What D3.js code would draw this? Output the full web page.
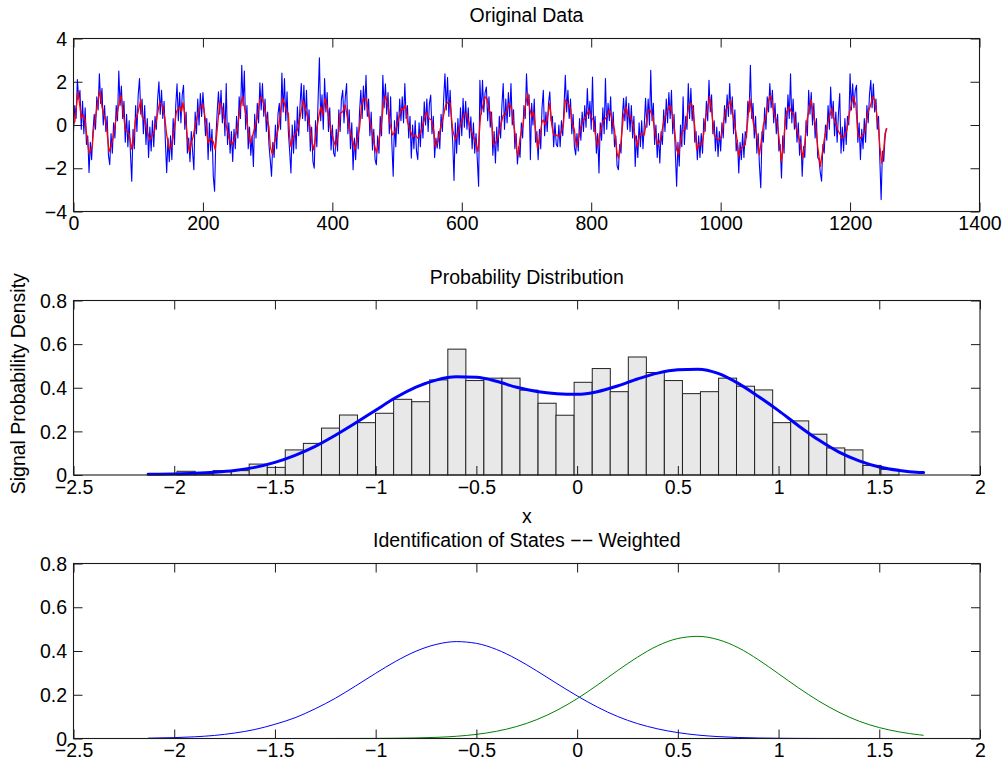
<!DOCTYPE html>
<html>
<head>
<meta charset="utf-8">
<script src="https://cdn.jsdelivr.net/npm/d3@7"></script>
<style>
  body { margin: 0; background: #fff; }
  svg { display: block; font-family: "Liberation Sans", Arial, Helvetica, sans-serif; }
</style>
</head>
<body>
<svg id="fig" width="1004" height="769"></svg>
<script>
// ---------- data ----------
// raw signal, one value every second sample (sample index = 2 * position)
const rawSignal = [
  -0.3,0.9,0.3,2.1,1.2,1.6,-0.2,1.1,-0.4,0.8,-0.9,-0.5,-2.2,-0.8,-1.6,-0.3,
  0.5,-0.2,1.3,0.7,2.37,1.0,1.7,0.0,0.9,-0.3,0.4,-1.4,-1.84,-0.4,-1.3,0.1,
  -0.6,0.9,0.2,2.5,0.9,1.8,0.3,1.1,-0.8,0.5,-1.0,0.2,-1.3,-2.6,-0.2,-1.1,
  0.9,-0.3,1.4,2.15,0.5,1.2,-0.4,0.9,-0.9,0.3,-1.5,-0.1,-1.2,0.2,-1.0,0.4,
  -0.2,1.2,2.0,0.5,1.6,0.3,1.1,-0.8,-2.2,-0.6,-1.7,-0.5,-1.6,0.3,-0.9,0.9,
  1.9,0.2,1.5,0.1,1.4,1.84,-0.2,0.6,-1.3,-0.6,-1.7,-0.3,-1.2,-2.07,0.6,-0.4,
  1.2,0.0,1.46,0.4,1.5,0.6,-0.5,0.3,-1.6,0.1,-1.2,-0.2,-2.37,-3.06,-0.6,0.6,
  1.53,0.5,1.6,0.1,1.0,-0.5,1.92,-0.9,0.1,-1.3,-0.3,-1.69,-0.2,-1.1,0.4,-0.6,
  1.3,0.3,2.76,0.9,2.5,-0.2,0.9,-1.1,-0.1,-1.4,-0.5,-1.92,0.5,-0.6,1.0,0.1,
  1.95,0.7,1.92,0.4,1.2,-0.3,0.6,-0.9,-1.6,-2.37,-0.8,-1.5,0.0,-1.1,0.5,1.0,
  -0.2,2.4,0.6,2.15,0.2,1.53,-0.3,-1.2,-2.22,0.0,-1.3,0.2,-1.1,0.84,-0.5,0.9,
  1.92,0.3,1.84,0.2,1.6,-0.3,0.7,-1.2,-0.1,-1.7,-2.0,0.2,-1.0,1.2,3.11,0.2,
  1.4,-0.2,2.15,0.6,1.5,-0.3,0.8,-1.15,0.0,-1.3,-1.46,-0.2,-1.2,0.7,-0.3,1.2,
  1.6,0.1,1.3,1.92,-0.4,0.7,-1.1,0.1,-2.07,-0.6,-1.6,-0.1,-1.1,0.6,1.6,0.3,
  1.8,0.7,2.3,0.4,1.2,-0.5,0.6,-1.15,-0.2,-1.6,-1.84,-0.5,-1.3,0.4,-0.5,2.3,
  0.8,1.9,0.5,1.5,-0.4,1.3,-0.9,-2.37,0.2,-1.0,0.6,-0.4,1.2,0.2,1.3,0.1,
  1.92,0.3,0.9,-0.6,0.4,-1.53,0.0,-1.1,0.2,-1.2,-1.6,0.1,-1.0,0.4,-0.6,1.07,
  0.0,1.2,-0.3,1.0,1.38,-0.4,0.4,-1.5,-0.6,-1.07,-0.3,-1.1,0.5,-0.3,1.2,2.37,
  0.7,2.2,0.4,1.6,0.2,-0.8,-2.56,0.1,-1.3,0.3,-0.9,0.8,-0.5,1.23,-0.1,1.1,
  -0.2,0.8,-0.6,0.38,-1.1,0.1,-1.3,-0.4,-1.6,-2.83,2.07,0.5,2.07,0.6,1.5,1.76,
  0.2,1.3,-0.1,0.6,-1.4,-0.3,-1.76,-0.1,-1.2,0.4,-0.6,0.9,1.92,-0.2,1.2,0.1,
  1.5,0.4,1.92,0.0,0.7,-1.1,-0.4,-1.8,-1.0,-1.5,0.1,-0.6,0.9,0.3,2.37,0.9,
  1.4,-1.6,1.0,0.0,1.2,-0.8,-0.3,-1.6,-0.2,-1.1,0.8,1.6,-0.5,0.6,-0.3,1.0,
  1.53,0.2,0.4,-1.0,0.1,-0.9,-1.0,0.0,-1.0,0.2,-0.5,0.9,2.3,0.6,1.6,0.3,
  1.2,-0.4,0.5,-1.0,-1.38,-0.4,-1.2,0.3,-0.7,0.6,-0.3,0.9,-0.1,1.69,0.3,1.1,
  -0.2,2.22,-0.3,0.4,-1.3,-0.4,-2.22,0.1,-0.7,0.8,-0.4,2.15,-0.2,1.0,0.2,1.3,
  -0.4,0.6,-1.0,-0.5,-1.9,-2.07,-0.9,-1.3,0.3,1.23,0.2,1.3,-0.2,1.0,-0.3,0.9,
  -0.6,0.4,-1.92,-0.5,-1.5,0.1,-1.0,0.2,-1.1,0.0,1.23,-0.1,1.2,0.0,2.53,0.2,
  1.0,-0.9,0.0,-1.5,-0.4,-1.76,-0.3,-0.9,0.7,-0.3,1.2,0.1,1.5,0.3,1.6,-0.4,
  0.5,-1.3,-2.83,-0.8,-1.9,0.0,-1.0,1.3,-0.9,0.4,-0.2,1.92,0.3,1.7,0.2,0.9,
  -0.8,-0.3,-1.6,-0.5,-1.5,-0.4,-1.3,0.3,-0.3,1.1,0.2,2.07,0.6,1.4,-0.4,0.2,
  -1.2,-0.1,-1.46,-0.3,-1.2,0.1,-0.6,0.9,0.1,1.4,0.4,1.92,0.5,1.3,-0.4,0.7,
  -1.2,-0.7,-2.22,-0.8,-1.6,-0.4,-1.5,-0.3,-0.6,1.1,0.6,2.76,0.3,1.0,-0.6,0.4,
  -1.3,-0.4,-1.9,-2.9,-0.3,-0.8,0.8,-0.2,1.3,0.6,1.92,0.8,1.6,0.1,1.0,-0.4,
  0.5,-1.2,-0.9,-2.45,-0.5,-1.3,0.8,-0.2,1.4,0.3,2.37,0.1,1.2,-0.2,0.6,-0.8,
  0.1,-1.4,-0.5,-2.37,-1.0,-1.5,0.2,-0.5,1.6,0.5,1.5,0.0,1.0,-0.6,0.3,-1.5,
  -1.6,-2.2,-2.6,-0.9,-1.3,0.0,-0.7,0.9,-0.2,1.76,0.3,1.1,-0.5,0.6,-0.8,0.5,
  1.46,-1.3,-0.1,-1.2,0.3,-0.9,0.4,0.0,2.37,0.7,1.9,0.8,1.6,1.84,-0.8,0.1,
  -1.6,-0.2,-1.1,0.3,-0.8,0.9,0.1,1.4,2.07,0.8,1.9,0.6,1.2,-0.2,0.4,-1.6,-3.45,-1.2,-1.69,-0.6,-0.15
];

// smoothed signal as [sample index, value]
const smoothedSignal = [
  [0,0.05],[2,0.15],[5,1.0],[7,1.53],[10,0.84],[12,0.31],[15,0.46],[18,0.23],[20,-0.38],[24,-1.3],[26,-1.23],[29,-1.0],[31,-0.23],
  [36,0.77],[39,1.3],[41,1.58],[44,0.84],[47,0.46],[49,0.31],[52,-0.38],[55,-1.23],[58,-1.0],[61,-0.61],[65,0.15],[69,0.77],
  [73,1.38],[75,1.0],[78,0.31],[80,-0.23],[84,-0.31],[87,-0.61],[90,-1.12],[93,-0.54],[96,0.31],[98,0.38],[101,0.77],[104,1.15],
  [106,0.38],[110,0.23],[114,-0.31],[118,-0.69],[122,-0.46],[125,-0.31],[129,0.38],[133,1.03],[137,0.92],[141,0.38],[144,-0.46],
  [148,-1.12],[151,-1.0],[155,-0.31],[159,0.61],[162,0.77],[164,0.84],[167,0.61],[169,1.03],[173,0.31],[176,-0.61],[179,-1.23],
  [182,-0.84],[185,-0.54],[188,0],[192,0.46],[196,0.84],[200,0.97],[204,0.23],[208,-0.84],[212,-0.61],[216,-0.77],[219,-1.15],
  [222,-0.23],[226,1.07],[230,0.77],[233,0.31],[237,-0.15],[241,-0.69],[245,-0.92],[249,-0.61],[253,-0.23],[257,0.69],[261,1.3],
  [263,1.0],[267,0.38],[271,-0.46],[273,-0.84],[277,-0.46],[280,-0.15],[284,0.38],[288,1.15],[290,1.3],[294,1.0],[298,0.38],
  [302,-0.08],[304,-0.99],[307,-1.33],[310,-0.84],[315,-0.38],[317,-0.08],[320,0.61],[323,1.23],[326,1.0],[329,0.61],[332,0.54],
  [334,-0.54],[336,-1.0],[339,-0.61],[342,-0.46],[346,-0.23],[349,0.15],[352,0.69],[355,1.12],[358,0.77],[361,0.46],[365,0],
  [368,-0.69],[371,-1.15],[375,-0.38],[379,0.38],[382,0.84],[385,0.46],[389,1.23],[393,0.69],[397,-0.15],[401,-0.61],[405,-1.0],
  [409,-0.46],[412,0.54],[416,0.61],[420,0.92],[424,0.23],[428,-0.38],[431,-0.69],[435,-1.15],[438,-0.69],[442,-0.15],[445,0.84],
  [448,1.23],[452,1.23],[456,0.46],[460,-0.08],[464,-0.77],[468,-1.3],[472,-0.77],[476,0.08],[479,1.0],[482,1.38],[486,0.92],
  [489,0.08],[493,-0.46],[497,-0.31],[501,0.15],[507,0.77],[509,0.69],[513,0.92],[516,0.15],[521,-0.31],[524,-0.54],[528,-0.46],
  [532,-0.61],[536,-0.38],[540,0],[545,0.61],[549,0.31],[553,0.23],[557,-0.31],[559,-1.0],[563,-0.77],[567,-0.15],[571,0.31],
  [575,0.92],[579,1.07],[582,1.0],[586,-0.23],[590,-0.69],[594,-0.38],[598,0],[603,0.46],[607,0.54],[610,0.23],[613,-0.15],
  [617,-0.46],[621,-0.77],[625,-1.23],[629,0.42],[633,0.95],[636,1.3],[639,1.23],[642,0.69],[644,0.61],[647,-0.08],[649,-0.92],
  [652,-0.84],[654,-0.69],[657,-0.46],[661,0.08],[664,0.46],[667,0.46],[671,0.77],[673,1.0],[677,0.77],[680,0.08],[683,-0.54],
  [685,-1.23],[687,-1.43],[690,-0.61],[695,0.08],[698,0.84],[702,1.46],[705,0.77],[708,0.38],[711,0.61],[714,-0.23],[717,-1.07],
  [720,-0.69],[724,0.15],[726,0.23],[729,0],[733,0.46],[736,1.0],[739,0],[742,-0.46],[746,-0.46],[750,-0.54],[753,-0.38],[757,0],
  [760,1.15],[764,1.0],[768,0.77],[770,0.15],[774,-0.23],[777,-1.0],[781,-0.54],[784,-0.08],[788,0.23],[792,0.38],[796,0.69],
  [800,0.38],[803,0.23],[806,-0.38],[810,-1.0],[813,-0.46],[817,0.08],[820,0.23],[824,0.38],[828,0.69],[832,0.31],[836,-0.23],
  [840,-1.3],[842,-1.53],[846,-0.77],[850,0.46],[854,0.84],[857,0.38],[860,0.46],[864,0.08],[868,-0.54],[871,-1.0],[874,-0.54],
  [878,-0.38],[882,-0.46],[885,0.08],[888,0.69],[891,0.69],[895,0.38],[899,-0.46],[903,-0.92],[907,-0.69],[911,0],[914,0.38],
  [918,0.69],[922,0.92],[926,0.38],[929,-0.31],[932,-1.15],[935,-1.38],[938,-0.77],[941,-0.3],[945,-0.2],[948,0.38],[951,0.92],
  [955,1.0],[957,0.77],[960,-0.08],[963,-1.15],[966,-0.92],[968,-0.84],[971,-0.92],[974,-0.38],[977,0.38],[980,0.77],[983,1.3],
  [986,0.69],[990,-0.46],[994,-0.61],[997,-0.69],[1001,-0.54],[1004,0.08],[1008,0.69],[1012,0.92],[1015,1.15],[1018,0.61],
  [1021,0.15],[1025,-0.61],[1028,-1.46],[1030,-1.15],[1034,-1.0],[1038,-0.92],[1042,0.23],[1045,1.23],[1047,0.77],[1051,0],
  [1054,-0.23],[1057,-0.69],[1060,-1.38],[1063,-0.69],[1066,0],[1070,0.38],[1074,1.15],[1077,1.38],[1080,1.0],[1083,0.46],
  [1087,0.15],[1090,-0.54],[1094,-1.69],[1097,-0.84],[1100,0.23],[1102,0.61],[1106,0.84],[1109,0.61],[1113,0.54],[1116,-0.08],
  [1120,-0.46],[1124,-1.0],[1127,-1.53],[1130,-0.84],[1133,0.15],[1137,0.77],[1140,1.15],[1143,0.54],[1147,-0.08],[1150,-1.0],
  [1154,-1.92],[1157,-1.3],[1160,-0.69],[1164,-0.08],[1168,0.38],[1172,0.77],[1174,0.38],[1178,0.08],[1181,-0.23],[1185,-0.46],
  [1187,-0.61],[1191,-0.54],[1195,-0.23],[1199,0.54],[1203,1.07],[1205,1.3],[1209,0.92],[1212,-0.46],[1216,-0.61],[1219,-0.46],
  [1223,-0.31],[1227,0.54],[1231,0.84],[1235,1.3],[1238,1.15],[1241,0.54],[1244,-0.15],[1246,-1.0],[1249,-1.76],[1252,-1.15],
  [1254,-0.38],[1257,-0.15]
];

// histogram of the signal (bin centres and density heights)
const binCenters = [-1.941,-1.852,-1.762,-1.672,-1.583,-1.493,-1.404,-1.314,-1.224,-1.135,
  -1.045,-0.956,-0.866,-0.776,-0.687,-0.597,-0.508,-0.418,-0.328,-0.239,
  -0.149,-0.060,0.030,0.120,0.209,0.299,0.388,0.478,0.568,0.657,
  0.747,0.836,0.926,1.016,1.105,1.195,1.284,1.374,1.464,1.553];
const binWidth = 0.0896;
const binDensity = [0.017,0.006,0.02,0.02,0.05,0.035,0.115,0.145,0.215,0.275,
  0.24,0.283,0.347,0.336,0.436,0.577,0.433,0.444,0.444,0.389,
  0.329,0.274,0.425,0.488,0.382,0.541,0.470,0.433,0.373,0.382,
  0.444,0.407,0.390,0.240,0.248,0.187,0.124,0.115,0.044,0.026];

// grid on which the fitted densities are shown
const gridX = [-2.13,-2.0,-1.9,-1.8,-1.7,-1.6,-1.5,-1.4,-1.3,-1.2,-1.1,-1.0,-0.9,-0.8,-0.7,-0.6,-0.5,-0.4,-0.3,-0.2,-0.1,
  0.0,0.1,0.2,0.3,0.4,0.5,0.6,0.7,0.8,0.9,1.0,1.1,1.2,1.3,1.4,1.5,1.6,1.7,1.72];
// mixture density
const mixtureDensity = [0.003,0.005,0.008,0.013,0.021,0.035,0.058,0.09,0.131,0.182,0.238,0.297,0.355,0.403,0.435,0.45,0.448,0.43,0.402,0.383,0.373,
  0.37,0.382,0.408,0.44,0.467,0.482,0.485,0.466,0.42,0.36,0.295,0.225,0.16,0.105,0.065,0.037,0.021,0.012,0.011];
// weighted state components
const stateLow = [0.0016,0.004,0.0077,0.014,0.025,0.041,0.065,0.095,0.136,0.184,0.240,0.298,0.353,0.399,0.430,0.443,0.435,0.407,0.363,0.309,0.251,
  0.195,0.144,0.101,0.068,0.044,0.027,0.0156,0.0087,0.0046,0.0023,0.0011,0.0005,0.0002,0.0001,0,0,0,0,0];
const stateHigh = [0,0,0,0,0,0,0,0,0,0.0001,0.0002,0.0005,0.0012,0.0025,0.0052,0.0101,0.0188,0.033,0.0548,0.0864,0.129,
  0.182,0.244,0.310,0.372,0.424,0.457,0.467,0.452,0.415,0.360,0.296,0.231,0.171,0.120,0.079,0.050,0.030,0.0167,0.0147];

// axis ticks
const signalXTicks = [0,200,400,600,800,1000,1200,1400];
const signalYTicks = [-4,-2,0,2,4];
const densXTicks = [-2.5,-2,-1.5,-1,-0.5,0,0.5,1,1.5,2];
const densYTicks = [0,0.2,0.4,0.6,0.8];

// ---------- drawing ----------
const svg = d3.select("#fig");
const FONT = 19.5;
const fmt = d => (d < 0 ? "\u2212" + String(Math.abs(d)) : String(d));

function panel(box, xDomain, yDomain, xTicks, yTicks) {
  const x = d3.scaleLinear().domain(xDomain).range([box.l, box.r]);
  const y = d3.scaleLinear().domain(yDomain).range([box.b, box.t]);
  const g = svg.append("g");
  const marks = g.append("g");
  const ax = g.append("g");
  const tick = 9;

  const bottom = ax.append("g").attr("transform", `translate(0,${box.b})`)
    .call(d3.axisBottom(x).tickValues(xTicks).tickSize(-tick).tickSizeOuter(0).tickPadding(5).tickFormat(fmt));
  const top = ax.append("g").attr("transform", `translate(0,${box.t})`)
    .call(d3.axisTop(x).tickValues(xTicks).tickSize(-tick).tickSizeOuter(0).tickFormat(""));
  const left = ax.append("g").attr("transform", `translate(${box.l},0)`)
    .call(d3.axisLeft(y).tickValues(yTicks).tickSize(-tick).tickSizeOuter(0).tickPadding(6.5).tickFormat(fmt));
  const right = ax.append("g").attr("transform", `translate(${box.r},0)`)
    .call(d3.axisRight(y).tickValues(yTicks).tickSize(-tick).tickSizeOuter(0).tickFormat(""));

  [bottom, top, left, right].forEach(a => {
    a.select(".domain").remove();
    a.selectAll("line").attr("stroke", "#1a1a1a").attr("stroke-width", 1);
    a.selectAll("text").attr("font-size", FONT).attr("fill", "#000")
      .attr("font-family", "Liberation Sans, Arial, sans-serif");
  });
  left.selectAll("text").attr("dy", "0.34em");

  ax.append("rect").attr("x", box.l).attr("y", box.t)
    .attr("width", box.r - box.l).attr("height", box.b - box.t)
    .attr("fill", "none").attr("stroke", "#1a1a1a").attr("stroke-width", 1.1);
  return { x, y, marks, g };
}

function title(text, cx, yBase) {
  svg.append("text").attr("x", cx).attr("y", yBase).attr("text-anchor", "middle")
    .attr("font-size", FONT).attr("fill", "#000").text(text);
}

// --- panel 1: original data
const p1box = { l: 73.5, r: 979.5, t: 38.5, b: 211.5 };
const p1 = panel(p1box, [0, 1400], [-4, 4], signalXTicks, signalYTicks);
p1.marks.append("path")
  .datum(rawSignal)
  .attr("fill", "none").attr("stroke", "#0000ff").attr("stroke-width", 1.1)
  .attr("stroke-linejoin", "round")
  .attr("d", d3.line().x((d, k) => p1.x(2 * k)).y(d => p1.y(d)));
p1.marks.append("path")
  .datum(smoothedSignal)
  .attr("fill", "none").attr("stroke", "#ff0000").attr("stroke-width", 1.3)
  .attr("stroke-linejoin", "round")
  .attr("d", d3.line().x(d => p1.x(d[0])).y(d => p1.y(d[1])));
title("Original Data", (p1box.l + p1box.r) / 2, 22);

// --- panel 2: probability distribution
const p2box = { l: 73.5, r: 980, t: 300.5, b: 475 };
const p2 = panel(p2box, [-2.5, 2], [0, 0.8], densXTicks, densYTicks);
p2.marks.selectAll("rect.bin")
  .data(binCenters.map((c, k) => ({ c, h: binDensity[k] })))
  .join("rect").attr("class", "bin")
  .attr("x", d => p2.x(d.c - binWidth / 2))
  .attr("width", d => p2.x(d.c + binWidth / 2) - p2.x(d.c - binWidth / 2))
  .attr("y", d => p2.y(d.h))
  .attr("height", d => p2.y(0) - p2.y(d.h))
  .attr("fill", "#e8e8e8").attr("stroke", "#222").attr("stroke-width", 1);
p2.marks.append("path")
  .datum(gridX.map((v, k) => [v, mixtureDensity[k]]))
  .attr("fill", "none").attr("stroke", "#0000ff").attr("stroke-width", 3)
  .attr("stroke-linecap", "round")
  .attr("d", d3.line().curve(d3.curveMonotoneX).x(d => p2.x(d[0])).y(d => p2.y(d[1])));
title("Probability Distribution", (p2box.l + p2box.r) / 2, 284);
svg.append("text").attr("x", (p2box.l + p2box.r) / 2).attr("y", 523)
  .attr("text-anchor", "middle").attr("font-size", FONT).text("x");
svg.append("text")
  .attr("transform", `translate(25,${(p2box.t + p2box.b) / 2 - 4}) rotate(-90)`)
  .attr("text-anchor", "middle").attr("font-size", FONT).text("Signal Probability Density");

// --- panel 3: weighted states
const p3box = { l: 73.5, r: 980, t: 563.5, b: 738.5 };
const p3 = panel(p3box, [-2.5, 2], [0, 0.8], densXTicks, densYTicks);
const stateLine = d3.line().curve(d3.curveMonotoneX).x(d => p3.x(d[0])).y(d => p3.y(d[1]));
p3.marks.append("path")
  .datum(gridX.map((v, k) => [v, stateLow[k]]))
  .attr("fill", "none").attr("stroke", "#0000ff").attr("stroke-width", 1)
  .attr("d", stateLine);
p3.marks.append("path")
  .datum(gridX.map((v, k) => [v, stateHigh[k]]))
  .attr("fill", "none").attr("stroke", "#008000").attr("stroke-width", 1)
  .attr("d", stateLine);
title("Identification of States \u2212\u2212 Weighted", (p3box.l + p3box.r) / 2, 547);
</script>
</body>
</html>
